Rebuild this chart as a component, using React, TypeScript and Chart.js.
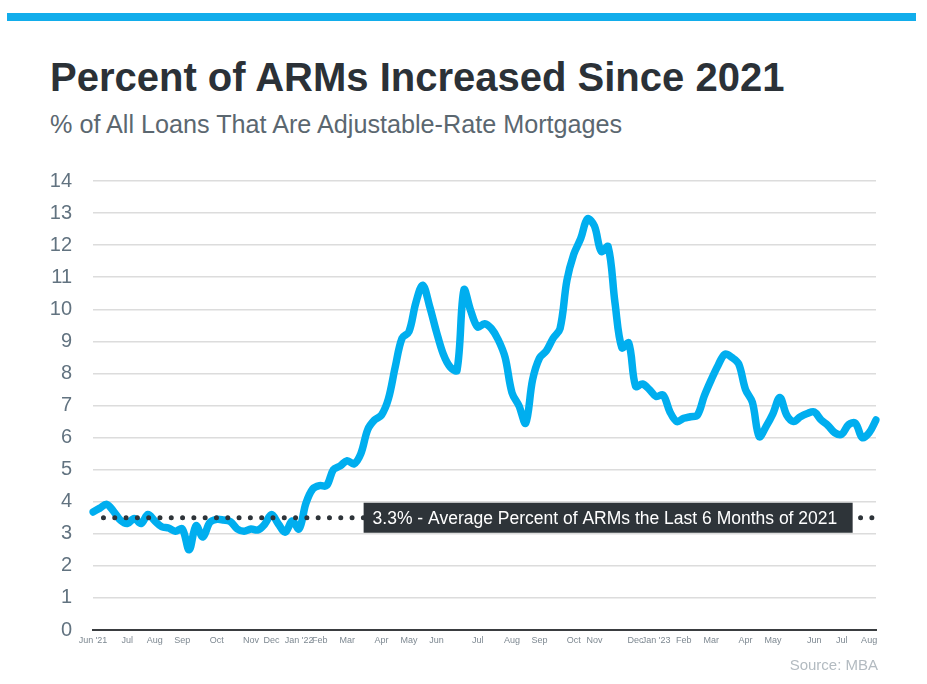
import React, { useEffect, useRef } from "react";
import { Chart, registerables } from "chart.js";

Chart.register(...registerables);

// Weekly share of adjustable-rate mortgages (% of all loans), Jun 2021 – Aug 2023
const ARM_SHARE = [
  3.68, 3.8, 3.92, 3.7, 3.42, 3.32, 3.48, 3.32, 3.6, 3.4,
  3.22, 3.18, 3.08, 3.15, 2.5, 3.25, 2.9, 3.35, 3.45, 3.43,
  3.38, 3.15, 3.08, 3.15, 3.12, 3.3, 3.6, 3.3, 3.05, 3.4,
  3.15, 3.95, 4.4, 4.5, 4.5, 5.0, 5.12, 5.28, 5.18, 5.5,
  6.25, 6.55, 6.7, 7.2, 8.2, 9.1, 9.3, 10.2, 10.75, 10.1,
  9.3, 8.6, 8.2, 8.1, 10.6, 9.95, 9.45, 9.55, 9.4, 9.05,
  8.5, 7.4, 7.0, 6.45, 7.8, 8.48, 8.7, 9.1, 9.4, 10.9,
  11.72, 12.2, 12.82, 12.6, 11.8, 11.95, 10.2, 8.8, 8.95, 7.6,
  7.67, 7.5, 7.28, 7.33, 6.8, 6.5, 6.6, 6.65, 6.7, 7.3,
  7.8, 8.25, 8.6, 8.5, 8.3, 7.5, 7.1, 6.03, 6.35, 6.75,
  7.25, 6.7, 6.5, 6.65, 6.75, 6.8, 6.55, 6.38, 6.15, 6.1,
  6.4, 6.45, 6.0, 6.15, 6.55,
];

// Month labels and the week (point index) each one sits under
const MONTH_TICK_INDEX = [
  0, 5, 9, 13, 18, 23, 26, 30, 33, 37, 42, 46, 50, 56,
  61, 65, 70, 73, 79, 82, 86, 90, 95, 99, 105, 109, 113,
];
const MONTH_TICK_TEXT = [
  "Jun '21", "Jul", "Aug", "Sep", "Oct", "Nov", "Dec", "Jan '22", "Feb", "Mar", "Apr", "May", "Jun", "Jul",
  "Aug", "Sep", "Oct", "Nov", "Dec", "Jan '23", "Feb", "Mar", "Apr", "May", "Jun", "Jul", "Aug",
];

const Y_MIN = 0;
const Y_MAX = 14;
const Y_STEP = 1;

// Reference line: average of last 6 months of 2021
const AVERAGE_LEVEL = 3.5;
const AVERAGE_LABEL = "3.3% - Average Percent of ARMs the Last 6 Months of 2021";
const AVERAGE_BOX_FROM = 39.4; // in point-index units
const AVERAGE_BOX_TO = 110.6;

const TITLE = "Percent of ARMs Increased Since 2021";
const SUBTITLE = "% of All Loans That Are Adjustable-Rate Mortgages";
const SOURCE = "Source: MBA";

const FONT = "'Liberation Sans', Arial, Helvetica, sans-serif";
const BLUE = "#00aeef";
const DARK = "#2e3439";

export default function App() {
  const canvasRef = useRef<HTMLCanvasElement | null>(null);

  useEffect(() => {
    const canvas = canvasRef.current;
    if (!canvas) return;

    const labels = ARM_SHARE.map((_, i) => {
      const k = MONTH_TICK_INDEX.indexOf(i);
      return k >= 0 ? MONTH_TICK_TEXT[k] : "";
    });
    const averageLine = ARM_SHARE.map((_, i) => (i === 0 ? null : AVERAGE_LEVEL));

    const boxPlugin = {
      id: "averageBox",
      afterDatasetsDraw(chart: any) {
        const { ctx, scales } = chart;
        const xs = scales.x;
        const ys = scales.y;
        const left = xs.getPixelForValue(AVERAGE_BOX_FROM);
        const right = xs.getPixelForValue(AVERAGE_BOX_TO);
        const cy = ys.getPixelForValue(AVERAGE_LEVEL);
        const h = 30;
        ctx.save();
        ctx.fillStyle = DARK;
        ctx.fillRect(left, cy - h / 2, right - left, h);
        ctx.fillStyle = "#ffffff";
        ctx.font = `17.5px ${FONT}`;
        ctx.textBaseline = "middle";
        ctx.textAlign = "left";
        ctx.fillText(AVERAGE_LABEL, left + 9, cy + 1);
        ctx.restore();
      },
    };

    const chart = new Chart(canvas, {
      type: "line",
      data: {
        labels,
        datasets: [
          {
            label: "Average",
            data: averageLine,
            borderColor: DARK,
            borderWidth: 5,
            borderDash: [0, 11.3],
            borderDashOffset: 7.7,
            borderCapStyle: "round",
            pointRadius: 0,
            fill: false,
            tension: 0,
            order: 0,
          },
          {
            label: "ARMs",
            data: ARM_SHARE,
            borderColor: BLUE,
            borderWidth: 7.5,
            borderJoinStyle: "round",
            borderCapStyle: "round",
            pointRadius: 0,
            fill: false,
            tension: 0.35,
            order: 1,
          },
        ],
      },
      options: {
        responsive: false,
        animation: false,
        devicePixelRatio: 1,
        layout: { padding: { top: 181, right: 51, bottom: 0, left: 0 } },
        plugins: {
          legend: { display: false },
          tooltip: { enabled: false },
          title: { display: false },
        },
        scales: {
          x: {
            type: "category",
            grid: { display: false, drawTicks: false },
            border: { display: true, color: "#3a3d40", width: 2 },
            ticks: {
              autoSkip: false,
              maxRotation: 0,
              minRotation: 0,
              padding: 5,
              color: "#7d8891",
              font: { family: FONT, size: 9 },
            },
            afterFit: (scale: any) => {
              scale.height = 54;
            },
          },
          y: {
            min: Y_MIN,
            max: Y_MAX,
            grid: { color: "#dcdcdc", lineWidth: 1.5, drawTicks: false },
            border: { display: false },
            ticks: {
              stepSize: Y_STEP,
              padding: 21,
              color: "#627380",
              font: { family: FONT, size: 20 },
            },
            afterFit: (scale: any) => {
              scale.width = 93;
            },
          },
        },
      },
      plugins: [boxPlugin],
    });

    return () => chart.destroy();
  }, []);

  return (
    <div
      style={{
        position: "absolute",
        left: 0,
        top: 0,
        width: 927,
        height: 684,
        background: "#ffffff",
        overflow: "hidden",
        fontFamily: FONT,
      }}
    >
      <div
        style={{
          position: "absolute",
          left: 7,
          top: 13,
          width: 909,
          height: 8,
          background: "#12adeb",
        }}
      />
      <div
        style={{
          position: "absolute",
          left: 50,
          top: 57,
          fontSize: 40,
          lineHeight: 1,
          fontWeight: 700,
          color: "#2b3137",
          whiteSpace: "nowrap",
        }}
      >
        {TITLE}
      </div>
      <div
        style={{
          position: "absolute",
          left: 50,
          top: 112,
          fontSize: 25.2,
          lineHeight: 1,
          color: "#5b6770",
          whiteSpace: "nowrap",
        }}
      >
        {SUBTITLE}
      </div>
      <canvas
        ref={canvasRef}
        width={927}
        height={684}
        style={{ position: "absolute", left: 0, top: 0, width: 927, height: 684, display: "block" }}
      />
      <div
        style={{
          position: "absolute",
          right: 49,
          top: 657,
          fontSize: 15,
          lineHeight: 1,
          color: "#b3bbc1",
          whiteSpace: "nowrap",
        }}
      >
        {SOURCE}
      </div>
    </div>
  );
}
